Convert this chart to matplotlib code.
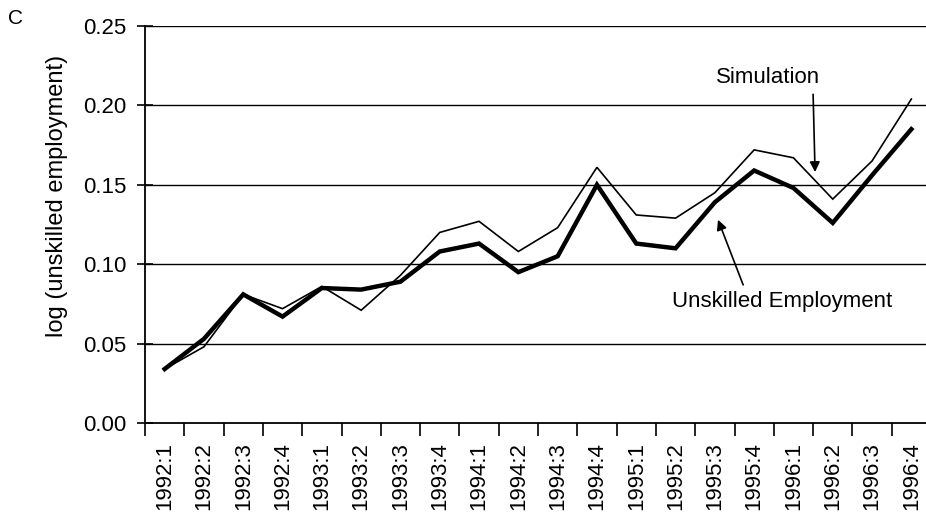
import matplotlib
matplotlib.use("Agg")
import matplotlib.pyplot as plt

plt.rcParams['font.family'] = ['Liberation Sans', 'DejaVu Sans']

quarters = ["1992:1", "1992:2", "1992:3", "1992:4", "1993:1", "1993:2", "1993:3", "1993:4",
            "1994:1", "1994:2", "1994:3", "1994:4", "1995:1", "1995:2", "1995:3", "1995:4",
            "1996:1", "1996:2", "1996:3", "1996:4"]
unskilled = [0.034, 0.053, 0.081, 0.067, 0.085, 0.084, 0.089, 0.108,
             0.113, 0.095, 0.105, 0.150, 0.113, 0.110, 0.139, 0.159,
             0.148, 0.126, 0.156, 0.185]
simulation = [0.034, 0.048, 0.081, 0.072, 0.086, 0.071, 0.093, 0.120,
              0.127, 0.108, 0.123, 0.161, 0.131, 0.129, 0.145, 0.172,
              0.167, 0.141, 0.165, 0.204]
yticks = [0.00, 0.05, 0.10, 0.15, 0.20, 0.25]

fig = plt.figure(figsize=(9.26, 5.12), dpi=100)
ax = fig.add_axes([145/926, 89/512, 786/926, 397/512])

x = list(range(len(quarters)))
ax.plot(x, simulation, color='black', lw=1.2, solid_joinstyle='miter', zorder=3)
ax.plot(x, unskilled, color='black', lw=3.2, solid_joinstyle='miter', zorder=4)

ax.set_xlim(-0.5, len(quarters) - 0.5)
ax.set_ylim(0, 0.25)
ax.set_yticks(yticks)
ax.set_yticklabels([f"{v:.2f}" for v in yticks], fontsize=16)
ax.set_xticks([i - 0.5 for i in range(len(quarters))])
ax.set_xticklabels([])
ax.set_xticks(x, minor=True)
ax.set_xticklabels(quarters, minor=True, rotation=90, fontsize=16)
ax.tick_params(axis='x', which='minor', length=0, pad=14)
ax.tick_params(axis='x', which='major', direction='out', length=9, width=1.2)
ax.tick_params(axis='y', direction='inout', length=11, width=1.2, pad=8)

for v in yticks[1:]:
    ax.axhline(v, color='black', lw=1.0, zorder=1)
for s in ['top', 'right']:
    ax.spines[s].set_visible(False)
ax.spines['left'].set_linewidth(1.3)
ax.spines['bottom'].set_linewidth(1.3)

ax.set_ylabel("log (unskilled employment)", fontsize=17)
ax.yaxis.set_label_coords(-0.098, 0.572)

ax.annotate("Simulation", xy=(16.55, 0.158), xytext=(15.35, 0.2175),
            ha='center', va='center', fontsize=16)
ax.annotate("", xy=(16.55, 0.158), xytext=(16.5, 0.207),
            arrowprops=dict(arrowstyle='-|>', color='black', lw=1.2,
                            mutation_scale=15, shrinkA=0, shrinkB=0))
ax.annotate("Unskilled Employment", xy=(15.71, 0.0763), xytext=(15.71, 0.0763),
            ha='center', va='center', fontsize=16)
ax.annotate("", xy=(14.08, 0.128), xytext=(14.72, 0.087),
            arrowprops=dict(arrowstyle='-|>', color='black', lw=1.2,
                            mutation_scale=15, shrinkA=0, shrinkB=0))

fig.text(15/926, 1 - 19/512, "C", ha='center', va='center', fontsize=15)

fig.savefig("out.png", dpi=100)
